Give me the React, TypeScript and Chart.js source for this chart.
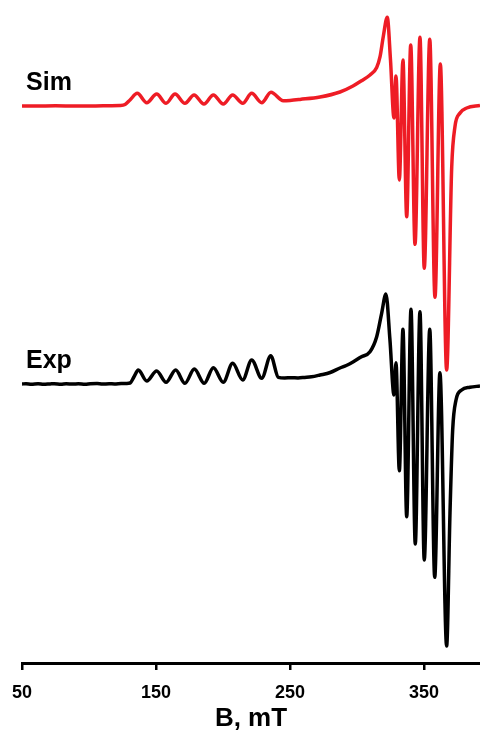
import React, { useEffect, useRef } from "react";
import { Chart, registerables } from "chart.js";

Chart.register(...registerables);

// ---- Axis ----
const FIELD_MIN = 50;
const FIELD_MAX = 391.8;
const TICK_VALUES = [50, 150, 250, 350];
const X_TITLE = "B, mT";

// ---- Simulated spectrum (field in mT, signal in a.u. relative to its baseline) ----
const SIM_LABEL = "Sim";
const SIM_FIELD = [
  50, 60, 75, 90, 105, 115, 123.1, 126.9, 130.6, 136.0, 143.1, 150.5, 157.5, 164.2,
  171.6, 178.4, 185.8, 192.8, 200.2, 207.2, 214.7, 221.4, 228.9, 235.8, 245.0, 250,
  257.5, 272.4, 287.3, 297.0, 303, 309.7, 314.7, 317.2, 319.6, 322.6, 325.0, 327.6,
  329.1, 331.6, 334.3, 337.1, 340.1, 343.3, 347.0, 350.2, 354.3, 358.2, 362.2, 366.9,
  370.7, 373.1, 376.9, 381.9, 391.8,
];
const SIM_SIGNAL = [
  0, 0, 0.2, 0, 0, 0.3, 0.5, 1.5, 6, 12.7, 3.3, 12, 2.7, 12,
  2.7, 11, 2, 11, 2, 11, 2.7, 12.7, 3.3, 13.7, 5.3, 5.6,
  6.6, 9, 14, 20, 25, 31, 38.5, 49.3, 69.3, 88.7, 46, -12,
  30, -74, 46, -110.7, 61, -138.3, 68.7, -162.3, 66.7, -191.3, 42, -264,
  -60.7, -20.7, -7, -2, 0.5,
];

// ---- Experimental spectrum ----
const EXP_LABEL = "Exp";
const EXP_FIELD = [
  50, 53, 57, 62, 66, 71, 74, 79, 83, 88, 92, 97, 101, 106, 110, 115, 119, 124, 128, 130.6,
  133.6, 136.8, 143.1, 150.5, 157.5, 164.7, 171.6, 178.6, 186.0, 192.8, 200.2, 207.2,
  214.7, 221.4, 228.9, 235.6, 241.3, 246, 251, 256, 261, 266, 272.4, 280, 287.3, 292,
  297.0, 303, 309.7, 314.7, 318.4, 321.6, 324.6, 327.6, 329.1, 331.6, 334.3, 337.1,
  340.3, 343.5, 347.0, 350.2, 354.3, 358.0, 361.9, 366.9, 369.4, 371.4, 373.9, 378.1,
  384.3, 391.8,
];
const EXP_SIGNAL = [
  0, 0.3, -0.2, 0.2, -0.3, 0.1, 0.3, -0.2, 0.2, -0.1, 0.3, -0.3, 0.2, 0.4, -0.1, 0.3, 0.1, 0.5, 0.6, 1,
  7.3, 14, 3, 13, 1.7, 14, 0.7, 15, 0.7, 16.3, 1.7, 20.7,
  4, 24, 5.7, 28.3, 6.7, 6, 6.3, 6.1, 6.6, 7.2, 9, 11.5, 16, 18.5,
  22, 27, 32.3, 47.3, 70.7, 90, 44, -11, 21.3, -86.7, 54.7, -132.7,
  74.7, -160, 72.3, -176, 54.7, -193.3, 11.3, -262, -129, -46, -16, -6,
  -3.3, -2,
];

// vertical stacking of the two traces (a.u.)
const Y_MIN = 0;
const Y_MAX = 663;
const SIM_OFFSET = 557;
const EXP_OFFSET = 279;
const LABEL_RISE = 16;

const FONT = '"Liberation Sans", Arial, Helvetica, sans-serif';

function toPoints(xs: number[], ys: number[], offset: number) {
  return xs.map((x, i) => ({ x, y: ys[i] + offset }));
}

const traceLabels = {
  id: "traceLabels",
  afterDatasetsDraw(chart: any) {
    const { ctx, scales } = chart;
    const x = scales.x;
    const y = scales.y;
    ctx.save();
    ctx.font = `bold 25px ${FONT}`;
    ctx.fillStyle = "#000";
    ctx.textAlign = "left";
    ctx.textBaseline = "alphabetic";
    ctx.fillText(SIM_LABEL, x.left + 4, y.getPixelForValue(SIM_OFFSET + LABEL_RISE));
    ctx.fillText(EXP_LABEL, x.left + 4, y.getPixelForValue(EXP_OFFSET + LABEL_RISE));
    ctx.restore();
  },
};

export default function App() {
  const ref = useRef<HTMLCanvasElement | null>(null);

  useEffect(() => {
    if (!ref.current) return;
    const chart = new Chart(ref.current, {
      type: "line",
      data: {
        datasets: [
          {
            label: SIM_LABEL,
            data: toPoints(SIM_FIELD, SIM_SIGNAL, SIM_OFFSET),
            borderColor: "#ee1c25",
            borderWidth: 3.5,
            pointRadius: 0,
            cubicInterpolationMode: "monotone",
            fill: false,
          },
          {
            label: EXP_LABEL,
            data: toPoints(EXP_FIELD, EXP_SIGNAL, EXP_OFFSET),
            borderColor: "#000000",
            borderWidth: 3.5,
            pointRadius: 0,
            cubicInterpolationMode: "monotone",
            fill: false,
          },
        ],
      },
      options: {
        responsive: false,
        animation: false,
        layout: { padding: { left: 22, right: 0, top: 0, bottom: 0 } },
        plugins: {
          legend: { display: false },
          tooltip: { enabled: false },
          title: { display: false },
        },
        scales: {
          x: {
            type: "linear",
            min: FIELD_MIN,
            max: FIELD_MAX,
            afterBuildTicks: (scale: any) => {
              scale.ticks = TICK_VALUES.map((v) => ({ value: v }));
            },
            afterFit: (scale: any) => {
              scale.height = 68;
            },
            border: { display: true, color: "#000", width: 3 },
            grid: {
              display: true,
              drawOnChartArea: false,
              drawTicks: true,
              tickLength: 7,
              color: "#000",
              lineWidth: 2.5,
            },
            ticks: {
              color: "#000",
              font: { family: FONT, size: 18, weight: "bold" },
              padding: 12,
              maxRotation: 0,
              autoSkip: false,
              callback: (v: any) => String(v),
            },
            title: {
              display: true,
              text: X_TITLE,
              color: "#000",
              font: { family: FONT, size: 26, weight: "bold", lineHeight: 0.9 },
              padding: { top: 0, bottom: 0 },
            },
          },
          y: {
            display: false,
            min: Y_MIN,
            max: Y_MAX,
          },
        },
      },
      plugins: [traceLabels],
    } as any);
    return () => chart.destroy();
  }, []);

  return (
    <div style={{ position: "absolute", left: 0, top: 0, width: 480, height: 731, background: "#fff" }}>
      <canvas ref={ref} width={480} height={731} style={{ display: "block" }} />
    </div>
  );
}
